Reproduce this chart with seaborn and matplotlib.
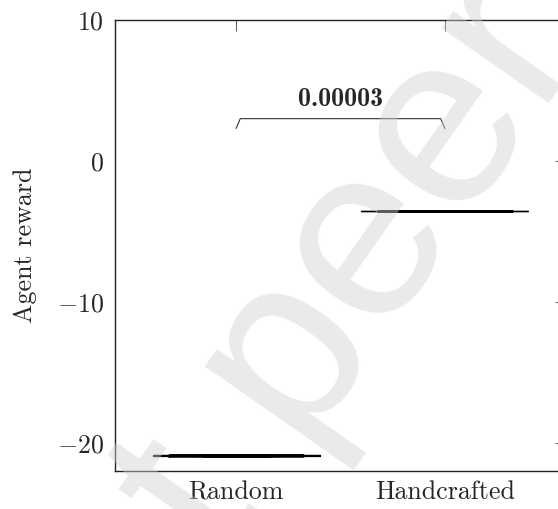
import numpy as np
import pandas as pd
import matplotlib
matplotlib.use("Agg")
import matplotlib.pyplot as plt
import seaborn as sns

# ---- data ----
categories = ["Random", "Handcrafted"]
random_rewards = [-20.95, -20.92, -20.90, -20.88, -20.85]
handcrafted_rewards = [-3.58, -3.56, -3.55, -3.54, -3.52]
yticks = [-20, -10, 0, 10]
p_value_label = "0.00003"
bracket_pair = [0, 1]
bracket_top = 3.0
bracket_foot = 2.3
watermark = "Not peer reviewed"

df = pd.DataFrame({
    "method": [categories[0]] * len(random_rewards) + [categories[1]] * len(handcrafted_rewards),
    "reward": random_rewards + handcrafted_rewards,
})

sns.set_theme(style="white")
plt.rcParams["font.family"] = "serif"
plt.rcParams["font.serif"] = ["cmr10"]
plt.rcParams["mathtext.fontset"] = "cm"
plt.rcParams["axes.formatter.use_mathtext"] = True
plt.rcParams["axes.unicode_minus"] = True

fs = 18.7
fig = plt.figure(figsize=(5.58, 5.09), dpi=100)
ax = fig.add_axes([115 / 558, 38 / 509, 451 / 558, 451 / 509])

# thin outer part (wider) and thick inner box
sns.boxplot(data=df, x="method", y="reward", order=categories, width=0.80,
            fill=False, color="black", linewidth=0.9, showfliers=False, ax=ax)
sns.boxplot(data=df, x="method", y="reward", order=categories, width=0.64,
            fill=False, color="black", linewidth=1.8, showfliers=False, ax=ax)

ax.set_xlim(-0.58, 1.58)
ax.set_ylim(-22, 10)
ax.set_yticks(yticks)
ax.set_xlabel("")
ax.set_ylabel("Agent reward", fontsize=fs)
ax.yaxis.set_label_coords(-0.172, 0.5)

ax.tick_params(axis="both", direction="in", length=7.9, width=0.7, color="#555555",
               top=True, right=True, labelsize=fs)
ax.tick_params(axis="y", pad=8)
ax.tick_params(axis="x", pad=7)
for s in ax.spines.values():
    s.set_linewidth(1.0)
    s.set_color("#222222")
    s.set_visible(True)

# significance bracket
x0, x1 = bracket_pair
ax.plot([x0, x0 + 0.02, x1 - 0.02, x1],
        [bracket_foot, bracket_top, bracket_top, bracket_foot],
        color="#333333", linewidth=0.8)
ax.text((x0 + x1) / 2, bracket_top + 0.55, p_value_label, ha="center", va="bottom",
        fontsize=fs, family="cmb10")

# watermark
fig.text(1.015, 1.065, watermark, rotation=55, rotation_mode="anchor",
         ha="center", va="center", fontsize=178, family="Liberation Sans",
         color="#d0d0d0", alpha=0.45, zorder=10)

fig.savefig("out.png", dpi=100)
